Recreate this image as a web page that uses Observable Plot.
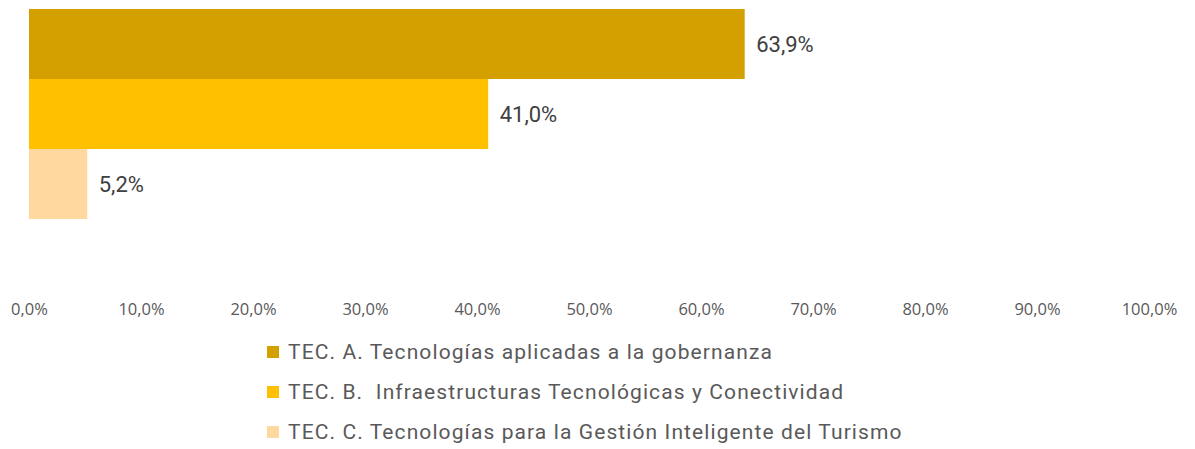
<!DOCTYPE html>
<html>
<head>
<meta charset="utf-8">
<script src="https://cdn.jsdelivr.net/npm/d3@7"></script>
<script src="https://cdn.jsdelivr.net/npm/@observablehq/plot@0.6"></script>
<style>
  body { margin: 0; background: #fff; }
  #legend { margin-left: 267px; font-family: Roboto, sans-serif; font-size: 21px; letter-spacing: 1.1px; color: #595959; }
  .row { height: 40px; line-height: 40px; display: flex; align-items: center; white-space: pre; }
  .sw { width: 12px; height: 12px; margin-right: 9px; flex: none; }
</style>
</head>
<body>
<div id="chart"></div>
<div id="legend"></div>
<script>
const categories = [
  "TEC. A. Tecnologías aplicadas a la gobernanza",
  "TEC. B.  Infraestructuras Tecnológicas y Conectividad",
  "TEC. C. Tecnologías para la Gestión Inteligente del Turismo"
];
const values = [63.9, 41.0, 5.2];
const colors = ["#D4A000", "#FFC000", "#FFD8A0"];
const xTicks = [0, 10, 20, 30, 40, 50, 60, 70, 80, 90, 100];

const data = categories.map((c, i) => ({category: c, value: values[i]}));
const fmt = d => d.toFixed(1).replace(".", ",") + "%";

const plot = Plot.plot({
  width: 1195,
  height: 332,
  marginLeft: 29,
  marginRight: 46,
  marginTop: 8,
  marginBottom: 112,
  style: {fontFamily: "Roboto, sans-serif"},
  x: {domain: [0, 100], ticks: xTicks, tickFormat: fmt, label: null},
  y: {domain: categories, padding: 0, axis: null},
  color: {domain: categories, range: colors},
  marks: [
    Plot.barX(data, {x: "value", y: "category", fill: "category"}),
    Plot.text(data, {x: "value", y: "category", text: d => fmt(d.value), textAnchor: "start", dx: 11, fontSize: 22, fill: "#404040", style: "letter-spacing:0.3px"}),
    Plot.axisX({ticks: xTicks, tickFormat: fmt, label: null, tickSize: 0, tickPadding: 83, fontSize: 16.5, fontFamily: "'Open Sans', sans-serif", fill: "#595959", color: "#595959"})
  ]
});
document.getElementById("chart").appendChild(plot);

const legend = document.getElementById("legend");
categories.forEach((c, i) => {
  const row = document.createElement("div");
  row.className = "row";
  const sw = document.createElement("span");
  sw.className = "sw";
  sw.style.background = colors[i];
  const t = document.createElement("span");
  t.textContent = c;
  row.appendChild(sw);
  row.appendChild(t);
  legend.appendChild(row);
});
</script>
</body>
</html>
